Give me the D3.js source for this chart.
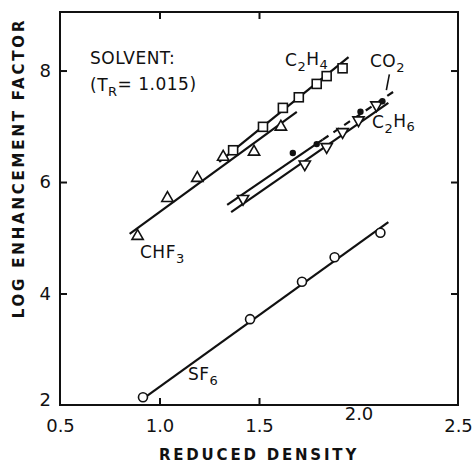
<!DOCTYPE html>
<html>
<head>
<meta charset="utf-8">
<script src="https://cdn.jsdelivr.net/npm/d3@7"></script>
<style>
  body { margin: 0; background: #fff; }
  text { font-family: "DejaVu Sans", sans-serif; fill: #111; }
  .tick text { font-size: 18px; }
  .lbl { font-size: 17px; letter-spacing: 0.5px; }
  .title { font-size: 15px; font-weight: bold; letter-spacing: 2.8px; }
</style>
</head>
<body>
<script>
var margin = { top: 12, right: 17, bottom: 60, left: 60 },
	width = 475 - margin.left - margin.right,
	height = 465 - margin.top - margin.bottom;

var xTicks = [0.5, 1.0, 1.5, 2.0, 2.5],
	yTicks = [2, 4, 6, 8];

// data
var chf3X = [0.89, 1.04, 1.19, 1.32, 1.475, 1.61],
	chf3Y = [5.03, 5.71, 6.07, 6.45, 6.54, 6.99];
var c2h4X = [1.37, 1.52, 1.62, 1.70, 1.79, 1.84, 1.92],
	c2h4Y = [6.57, 6.99, 7.33, 7.52, 7.76, 7.90, 8.04];
var c2h6X = [1.42, 1.73, 1.84, 1.92, 2.00, 2.09],
	c2h6Y = [5.70, 6.32, 6.63, 6.90, 7.11, 7.38];
var co2X = [1.67, 1.79, 2.01, 2.12],
	co2Y = [6.52, 6.68, 7.26, 7.45];
var sf6X = [0.917, 1.455, 1.716, 1.88, 2.11],
	sf6Y = [2.14, 3.54, 4.21, 4.65, 5.09];

// fitted lines (end points)
var chf3Line = [[0.85, 5.07], [1.69, 7.26]],
	c2h4Line = [[1.30, 6.36], [1.95, 8.24]],
	c2h6Line = [[1.36, 5.46], [2.15, 7.42]],
	co2Line = [[1.34, 5.59], [1.82, 6.76]],
	co2Dash = [[1.82, 6.76], [2.18, 7.63]],
	sf6Line = [[0.92, 2.12], [2.15, 5.28]];

var svg = d3.select("body").append("svg")
	.attr("width", 475)
	.attr("height", 465)
	.append("g")
	.attr("transform", "translate(" + margin.left + "," + margin.top + ")");

var x = d3.scaleLinear().domain([0.5, 2.5]).range([0, width]);
var y = d3.scaleLinear().domain([2, 9.05]).range([height, 0]);

var tick = 7;

svg.append("g")
	.attr("transform", "translate(0," + height + ")")
	.call(d3.axisBottom(x).tickValues(xTicks).tickFormat(d3.format(".1f"))
		.tickSizeInner(-tick).tickSizeOuter(0).tickPadding(14));
svg.append("g")
	.call(d3.axisTop(x).tickValues(xTicks.slice(1, -1)).tickFormat("")
		.tickSizeInner(-tick).tickSizeOuter(0));
svg.append("g")
	.call(d3.axisLeft(y).tickValues(yTicks).tickFormat(d3.format("d"))
		.tickSizeInner(-tick).tickSizeOuter(0).tickPadding(9));
svg.append("g")
	.attr("transform", "translate(" + width + ",0)")
	.call(d3.axisRight(y).tickValues(yTicks.slice(1)).tickFormat("")
		.tickSizeInner(-tick).tickSizeOuter(0));

svg.selectAll(".domain").remove();
svg.selectAll(".tick line").attr("stroke", "#111").attr("stroke-width", 2);
svg.selectAll(".tick").filter(function (d) { return d === 2 || d === 0.5 || d === 2.5; })
	.select("line").remove();
// "2" label sits a little high at the corner
svg.selectAll(".tick text").filter(function (d) { return d === 2; }).attr("dy", "0.05em");

svg.append("rect")
	.attr("width", width).attr("height", height)
	.attr("fill", "none").attr("stroke", "#111").attr("stroke-width", 2);

var line = d3.line().x(function (d) { return x(d[0]); }).y(function (d) { return y(d[1]); });

[chf3Line, c2h4Line, c2h6Line, co2Line, sf6Line].forEach(function (l) {
	svg.append("path").attr("d", line(l))
		.attr("fill", "none").attr("stroke", "#111").attr("stroke-width", 2.2);
});
svg.append("path").attr("d", line(co2Dash))
	.attr("fill", "none").attr("stroke", "#111").attr("stroke-width", 2.2)
	.attr("stroke-dasharray", "7,6");

function zip(a, b) { return a.map(function (v, i) { return [v, b[i]]; }); }

var triUp = d3.symbol().type(d3.symbolTriangle).size(55);

svg.selectAll(".chf3").data(zip(chf3X, chf3Y)).enter().append("path")
	.attr("d", triUp)
	.attr("transform", function (d) { return "translate(" + x(d[0]) + "," + y(d[1]) + ")"; })
	.attr("fill", "#fff").attr("stroke", "#111").attr("stroke-width", 1.6);

svg.selectAll(".c2h6").data(zip(c2h6X, c2h6Y)).enter().append("path")
	.attr("d", triUp)
	.attr("transform", function (d) { return "translate(" + x(d[0]) + "," + y(d[1]) + ") rotate(180)"; })
	.attr("fill", "#fff").attr("stroke", "#111").attr("stroke-width", 1.6);

svg.selectAll(".c2h4").data(zip(c2h4X, c2h4Y)).enter().append("rect")
	.attr("x", function (d) { return x(d[0]) - 4.5; })
	.attr("y", function (d) { return y(d[1]) - 4.5; })
	.attr("width", 9).attr("height", 9)
	.attr("fill", "#fff").attr("stroke", "#111").attr("stroke-width", 1.6);

svg.selectAll(".co2").data(zip(co2X, co2Y)).enter().append("circle")
	.attr("cx", function (d) { return x(d[0]); })
	.attr("cy", function (d) { return y(d[1]); })
	.attr("r", 3.2).attr("fill", "#111");

svg.selectAll(".sf6").data(zip(sf6X, sf6Y)).enter().append("circle")
	.attr("cx", function (d) { return x(d[0]); })
	.attr("cy", function (d) { return y(d[1]); })
	.attr("r", 4.5)
	.attr("fill", "#fff").attr("stroke", "#111").attr("stroke-width", 1.6);

// labels
function chem(px, py, parts) {
	var t = svg.append("text").attr("class", "lbl").attr("x", px).attr("y", py);
	parts.forEach(function (p) {
		t.append("tspan").text(p[0])
			.attr("dy", p[1] ? "0.35em" : (p[2] ? "-0.35em" : null))
			.attr("font-size", p[1] ? "13px" : null);
	});
	return t;
}

chem(225, 54, [["C"], ["2", true], ["H", false, true], ["4", true]]);
chem(310, 55, [["CO"], ["2", true]]);
chem(312, 116, [["C"], ["2", true], ["H", false, true], ["6", true]]);
chem(80, 246, [["CHF"], ["3", true]]);
chem(128, 368, [["SF"], ["6", true]]);

svg.append("path")
	.attr("d", "M" + (x(2.14)) + "," + y(7.65) + " L" + x(2.155) + "," + y(7.93))
	.attr("stroke", "#111").attr("stroke-width", 1.6);

svg.append("text").attr("class", "lbl").attr("x", 30).attr("y", 52).text("SOLVENT:");
chem(30, 79, [["(T"], ["R", true], ["= 1.015)", false, true]]);

// axis titles
svg.append("text").attr("class", "title")
	.attr("x", width / 2).attr("y", height + 55)
	.attr("text-anchor", "middle").text("REDUCED DENSITY");
svg.append("text").attr("class", "title")
	.attr("transform", "translate(-36," + (168 - margin.top) + ") rotate(-90)")
	.attr("text-anchor", "middle").text("LOG ENHANCEMENT FACTOR");
</script>
</body>
</html>
